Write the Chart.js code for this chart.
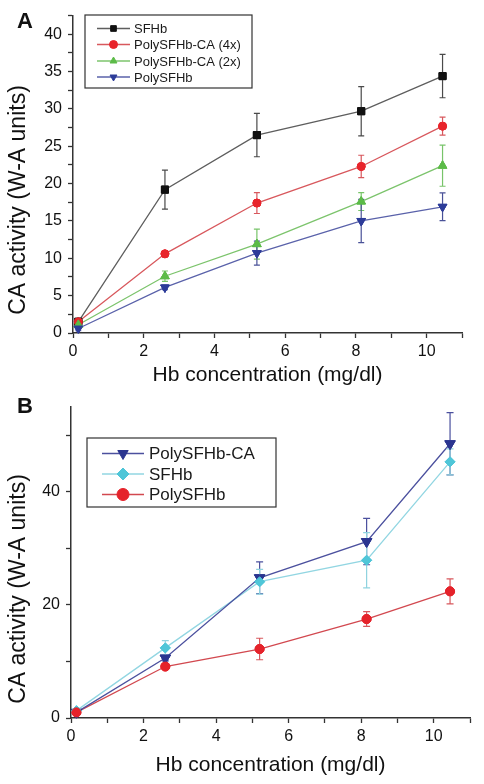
<!DOCTYPE html>
<html><head><meta charset="utf-8">
<script src="https://cdn.jsdelivr.net/npm/chart.js@4/dist/chart.umd.min.js"></script>
<style>
html,body{margin:0;padding:0;background:#fff;width:484px;height:784px;overflow:hidden}
.wrap{position:absolute;left:0;width:484px;height:390px}
</style></head><body>
<div class="wrap" style="top:0"><canvas id="ca"></canvas></div>
<div class="wrap" style="top:390px"><canvas id="cb"></canvas></div>
<script>
// ---- data ----
const xValues = [0.15, 2.6, 5.2, 8.15, 10.45];
const xTitle = 'Hb concentration (mg/dl)';
const yTitle = 'CA activity (W-A units)';

// Panel A
const namesA = ['SFHb', 'PolySFHb-CA (4x)', 'PolySFHb-CA (2x)', 'PolySFHb'];
const sfhbA = [1.5, 19.2, 26.5, 29.7, 34.4];
const sfhbAErr = [0.3, 2.6, 2.9, 3.3, 2.9];
const ca4A = [1.5, 10.6, 17.4, 22.3, 27.7];
const ca4AErr = [0.3, 0.4, 1.4, 1.5, 1.2];
const ca2A = [1.1, 7.6, 11.9, 17.6, 22.4];
const ca2AErr = [0.3, 0.7, 2.0, 1.2, 2.75];
const polyA = [0.6, 6.1, 10.7, 15.0, 16.9];
const polyAErr = [0.3, 0.3, 1.6, 2.9, 1.85];
const yTicksA = [0, 5, 10, 15, 20, 25, 30, 35, 40];

// Panel B
const namesB = ['PolySFHb-CA', 'SFHb', 'PolySFHb'];
const polyCaB = [1.0, 10.6, 24.8, 31.2, 48.5];
const polyCaBErr = [0.3, 0.5, 2.8, 4.1, 5.5];
const sfhbB = [1.3, 12.4, 24.1, 27.9, 45.3];
const sfhbBErr = [0.3, 1.3, 2.2, 4.9, 2.3];
const polyB = [1.0, 9.1, 12.2, 17.5, 22.4];
const polyBErr = [0.2, 0.4, 1.9, 1.3, 2.2];
const yTicksB = [0, 20, 40];
const xTickLabels = [0, 2, 4, 6, 8, 10];

// ---- helpers ----
const FONT = '"Liberation Sans", Arial, Helvetica, sans-serif';
const pts = arr => xValues.map((x, i) => ({x: x, y: arr[i]}));

function ds(label, arr, err, lineColor, markColor, errColor, style, radius, rot) {
  return {
    label: label, data: pts(arr), errors: err, errorColor: errColor,
    showLine: true, borderColor: lineColor, borderWidth: 1.3,
    pointStyle: style, pointRadius: radius, pointRotation: rot || 0,
    pointBackgroundColor: markColor, pointBorderColor: markColor, pointBorderWidth: 1,
    pointHoverRadius: radius
  };
}

const errorBars = {
  id: 'errorBars',
  afterDatasetsDraw(chart, args, o) {
    const ctx = chart.ctx, ys = chart.scales.y;
    chart.data.datasets.forEach((d, di) => {
      const meta = chart.getDatasetMeta(di);
      ctx.save();
      ctx.strokeStyle = d.errorColor; ctx.lineWidth = 1.2;
      meta.data.forEach((p, i) => {
        const v = d.data[i].y, e = d.errors[i];
        const t = ys.getPixelForValue(v + e), b = ys.getPixelForValue(v - e);
        const c = o.cap;
        ctx.beginPath();
        ctx.moveTo(p.x, t); ctx.lineTo(p.x, b);
        ctx.moveTo(p.x - c, t); ctx.lineTo(p.x + c, t);
        ctx.moveTo(p.x - c, b); ctx.lineTo(p.x + c, b);
        ctx.stroke();
      });
      ctx.restore();
    });
    // redraw markers on top
    chart.data.datasets.forEach((d, di) => {
      const meta = chart.getDatasetMeta(di);
      meta.data.forEach(p => p.draw(ctx, chart.chartArea));
    });
  }
};

const boxLegend = {
  id: 'boxLegend',
  afterDraw(chart, args, o) {
    const ctx = chart.ctx;
    ctx.save();
    ctx.strokeStyle = '#333'; ctx.lineWidth = 1.2;
    ctx.strokeRect(o.box[0], o.box[1], o.box[2] - o.box[0], o.box[3] - o.box[1]);
    ctx.font = o.fontSize + 'px ' + FONT;
    ctx.textBaseline = 'middle'; ctx.textAlign = 'left';
    chart.data.datasets.forEach((d, i) => {
      const y = o.rows[i];
      ctx.strokeStyle = d.borderColor; ctx.lineWidth = d.borderWidth;
      ctx.beginPath(); ctx.moveTo(o.line[0], y); ctx.lineTo(o.line[1], y); ctx.stroke();
      ctx.fillStyle = d.pointBackgroundColor; ctx.strokeStyle = d.pointBorderColor; ctx.lineWidth = 1;
      Chart.helpers.drawPoint(ctx, {pointStyle: d.pointStyle, rotation: d.pointRotation, radius: o.r, borderWidth: 1},
        (o.line[0] + o.line[1]) / 2, y);
      ctx.fillStyle = '#1a1a1a';
      ctx.fillText(d.label, o.textX, y + 1);
    });
    ctx.restore();
  }
};

const texts = {
  id: 'texts',
  afterDraw(chart, args, o) {
    const ctx = chart.ctx;
    ctx.save();
    ctx.fillStyle = '#111';
    ctx.font = 'bold ' + o.letterSize + 'px ' + FONT;
    ctx.textAlign = 'center'; ctx.textBaseline = 'middle';
    ctx.fillText(o.letter, o.letterX, o.letterY);
    ctx.translate(o.yTitleX, o.yTitleY);
    ctx.rotate(-Math.PI / 2);
    ctx.font = o.yTitleSize + 'px ' + FONT;
    ctx.fillText(yTitle, 0, 0);
    ctx.restore();
  }
};

function makeOptions(cfg) {
  return {
    responsive: true, maintainAspectRatio: false, animation: false, devicePixelRatio: 1,
    layout: {padding: {top: cfg.padTop, right: cfg.padRight, left: 0, bottom: 0}},
    plugins: {
      legend: {display: false}, tooltip: {enabled: false},
      errorBars: {cap: cfg.cap},
      boxLegend: cfg.legend,
      texts: cfg.texts
    },
    scales: {
      x: {
        type: 'linear', min: 0, max: 11,
        afterFit: s => { s.height = cfg.xHeight; },
        border: {display: true, color: '#333', width: 1.5},
        grid: {display: true, drawOnChartArea: false, drawTicks: true, tickLength: 5, color: '#333', tickWidth: 1.3},
        ticks: {stepSize: 1, autoSkip: false, maxRotation: 0, padding: 4, color: '#111',
          font: {family: FONT, size: 16},
          callback: v => (xTickLabels.includes(v) ? String(v) : '')},
        title: {display: true, text: xTitle, color: '#111', font: {family: FONT, size: 21},
          padding: {top: 0, bottom: cfg.xTitlePad}}
      },
      y: {
        type: 'linear', min: 0, max: cfg.yMax,
        afterFit: s => { s.width = cfg.yWidth; },
        border: {display: true, color: '#333', width: 1.5},
        grid: {display: true, drawOnChartArea: false, drawTicks: true, tickLength: 5, tickWidth: 1.3,
          color: c => (c.tick && c.tick.value > cfg.yTickMax ? 'rgba(0,0,0,0)' : '#333')},
        ticks: {stepSize: cfg.yStep, autoSkip: false, padding: 6, color: '#111',
          font: {family: FONT, size: 16},
          callback: v => (cfg.yLabels.includes(v) ? String(v) : '')}
      }
    }
  };
}

// ---- Panel A ----
new Chart(document.getElementById('ca'), {
  type: 'scatter',
  data: {datasets: [
    ds(namesA[0], sfhbA, sfhbAErr, '#5e5e5e', '#111111', '#4a4a4a', 'rect', 5),
    ds(namesA[1], ca4A, ca4AErr, '#d8585d', '#e8242b', '#d8585d', 'circle', 4),
    ds(namesA[2], ca2A, ca2AErr, '#7cc46c', '#5cbb48', '#78c46a', 'triangle', 5),
    ds(namesA[3], polyA, polyAErr, '#5a62aa', '#2d3c99', '#4a5298', 'triangle', 5, 180)
  ]},
  options: makeOptions({
    padTop: 13, padRight: 22, xHeight: 57, yWidth: 73, xTitlePad: 2,
    yMax: 42.5, yStep: 2.5, yLabels: yTicksA, yTickMax: 100, cap: 3,
    legend: {box: [85, 15, 252, 88], rows: [28.5, 44.5, 61, 77], line: [97, 130], r: 4, textX: 134, fontSize: 13},
    texts: {letter: 'A', letterX: 25, letterY: 22, letterSize: 22, yTitleX: 19, yTitleY: 200, yTitleSize: 23}
  }),
  plugins: [errorBars, boxLegend, texts]
});

// ---- Panel B ----
new Chart(document.getElementById('cb'), {
  type: 'scatter',
  data: {datasets: [
    ds(namesB[0], polyCaB, polyCaBErr, '#4b509e', '#2b3590', '#4b509e', 'triangle', 6, 180),
    ds(namesB[1], sfhbB, sfhbBErr, '#92d6e2', '#4fc6d8', '#8fd3df', 'rectRot', 5),
    ds(namesB[2], polyB, polyBErr, '#d2484f', '#e5222a', '#d8585d', 'circle', 4.5)
  ]},
  options: makeOptions({
    padTop: 17, padRight: 14, xHeight: 62, yWidth: 71, xTitlePad: 2,
    yMax: 55, yStep: 10, yLabels: yTicksB, yTickMax: 50, cap: 3.5,
    legend: {box: [87, 48, 276, 117], rows: [63.5, 84, 104.5], line: [102, 144], r: 6, textX: 149, fontSize: 17},
    texts: {letter: 'B', letterX: 25, letterY: 17, letterSize: 22, yTitleX: 19, yTitleY: 199, yTitleSize: 23}
  }),
  plugins: [errorBars, boxLegend, texts]
});
</script>
</body></html>
